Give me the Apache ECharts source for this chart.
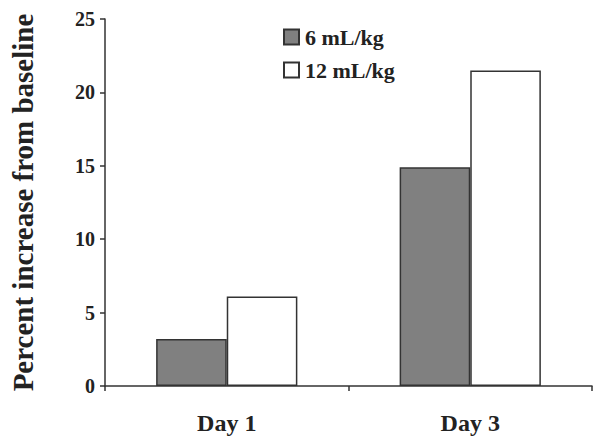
<!DOCTYPE html>
<html>
<head>
<meta charset="utf-8">
<script src="https://cdn.jsdelivr.net/npm/echarts@6/dist/echarts.min.js"></script>
<style>
  html, body { margin: 0; padding: 0; background: #fff; }
  #chart { width: 601px; height: 445px; }
</style>
</head>
<body>
<div id="chart"></div>
<script>
var days = ['Day 1', 'Day 3'];
var seriesNames = ['6 mL/kg', '12 mL/kg'];
var low = [3.2, 14.9];
var high = [6.1, 21.5];
var yTicks = [0, 5, 10, 15, 20, 25];

var ink = '#222';
var serif = '"Liberation Serif", "DejaVu Serif", serif';

var chart = echarts.init(document.getElementById('chart'), null, { renderer: 'svg' });

chart.setOption({
  animation: false,
  grid: { left: 101, right: 9, top: 19, bottom: 59 },
  legend: {
    data: seriesNames,
    orient: 'vertical',
    left: 283,
    top: 26,
    padding: 0,
    itemWidth: 15,
    itemHeight: 15,
    itemGap: 11,
    icon: 'rect',
    textStyle: { color: ink, fontFamily: serif, fontWeight: 'bold', fontSize: 22, padding: [0, 0, 0, 1] }
  },
  xAxis: {
    type: 'category',
    data: days,
    axisLine: { lineStyle: { color: '#333', width: 1.5 } },
    axisTick: { show: true, length: 5, lineStyle: { color: '#333', width: 1.5 } },
    axisLabel: { color: ink, fontFamily: serif, fontWeight: 'bold', fontSize: 24, margin: 25 }
  },
  yAxis: {
    type: 'value',
    min: yTicks[0],
    max: yTicks[yTicks.length - 1],
    interval: 5,
    name: 'Percent increase from baseline',
    nameLocation: 'middle',
    nameGap: 68,
    nameTextStyle: { color: ink, fontFamily: serif, fontWeight: 'bold', fontSize: 29 },
    axisLine: { show: true, lineStyle: { color: '#333', width: 1.5 } },
    axisTick: { show: true, length: 5, lineStyle: { color: '#333', width: 1.5 } },
    axisLabel: { color: ink, fontFamily: serif, fontWeight: 'bold', fontSize: 20, margin: 10 },
    splitLine: { show: false }
  },
  series: [
    {
      name: seriesNames[0],
      type: 'bar',
      data: low,
      barWidth: '29%',
      barGap: '0%',
      itemStyle: { color: '#808080', borderColor: '#333', borderWidth: 1.5 }
    },
    {
      name: seriesNames[1],
      type: 'bar',
      data: high,
      barWidth: '29%',
      itemStyle: { color: '#ffffff', borderColor: '#333', borderWidth: 1.5 }
    }
  ]
});

window.addEventListener('resize', function() { chart.resize(); });
</script>
</body>
</html>
